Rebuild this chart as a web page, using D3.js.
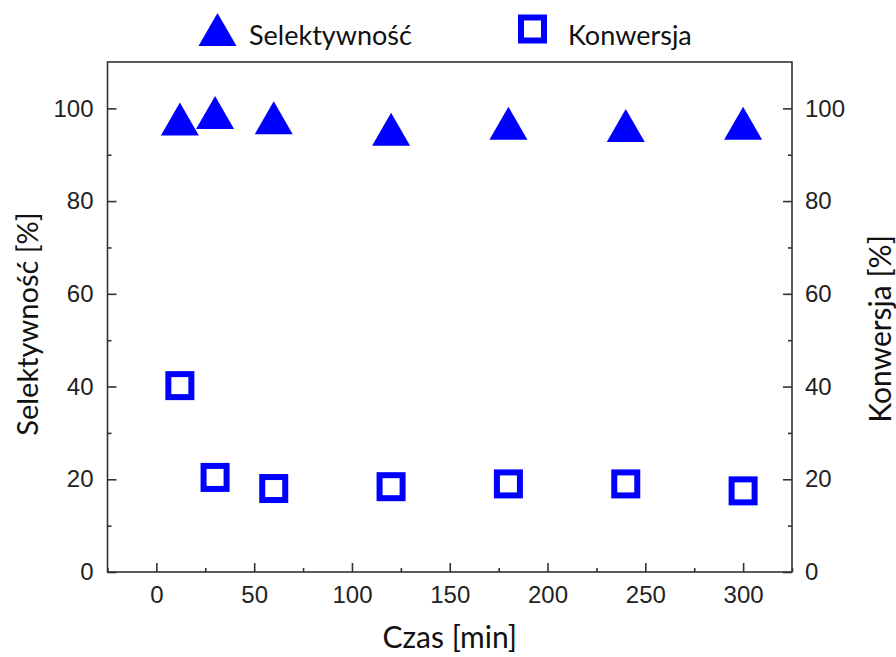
<!DOCTYPE html>
<html><head><meta charset="utf-8">
<script src="https://cdn.jsdelivr.net/npm/d3@7"></script>
<style>body{margin:0;background:#fff}svg{display:block}</style>
</head><body>
<svg id="c" width="896" height="657"></svg>
<script>
const times = [12, 30, 60, 120, 180, 240, 300];
const selektywnosc = [97.7, 99.1, 98.0, 95.5, 96.8, 96.3, 96.8];
const konwersja = [40.2, 20.4, 18.0, 18.4, 19.0, 19.0, 17.5];
const xTicks = [0, 50, 100, 150, 200, 250, 300];
const yTicks = [0, 20, 40, 60, 80, 100];
const seriesNames = ["Selektywność", "Konwersja"];

const svg = d3.select("#c");
const L = 107.5, R = 792, T = 62, B = 572;
const x = d3.scaleLinear().domain([-25, 325]).range([L, R]);
const yL = d3.scaleLinear().domain([0, 110]).range([B, T]);
const yR = d3.scaleLinear().domain([0, 110]).range([B, T]);
const blue = "#0000ff", axc = "#333";
const titleFont = "Lato, 'Open Sans', sans-serif";
const tickFont = "'Liberation Sans', Arial, sans-serif";

// frame
svg.append("rect").attr("x", L).attr("y", T).attr("width", R - L).attr("height", B - T)
  .attr("fill", "none").attr("stroke", axc).attr("stroke-width", 1.6);

// axes with inward ticks
function styleAxis(g) {
  g.select(".domain").remove();
  g.selectAll("line").attr("stroke", axc).attr("stroke-width", 1.6);
  g.selectAll("text").attr("font-family", tickFont).attr("font-size", 24).attr("fill", "#222");
}
const xMinor = d3.range(-25, 326, 25).filter(v => v % 50 !== 0);
svg.append("g").attr("transform", `translate(0,${B})`)
  .call(d3.axisBottom(x).tickValues(xMinor).tickSize(-4).tickFormat(""))
  .call(styleAxis);
svg.append("g").attr("transform", `translate(0,${B})`)
  .call(d3.axisBottom(x).tickValues(xTicks).tickSize(-9).tickPadding(14).tickFormat(d3.format("d")))
  .call(styleAxis);

const yMinor = d3.range(10, 110, 20);
svg.append("g").attr("transform", `translate(${L},0)`)
  .call(d3.axisLeft(yL).tickValues(yMinor).tickSize(-4).tickFormat(""))
  .call(styleAxis);
svg.append("g").attr("transform", `translate(${L},0)`)
  .call(d3.axisLeft(yL).tickValues(yTicks).tickSize(-9).tickPadding(14).tickFormat(d3.format("d")))
  .call(styleAxis);
svg.append("g").attr("transform", `translate(${R},0)`)
  .call(d3.axisRight(yR).tickValues(yMinor).tickSize(-4).tickFormat(""))
  .call(styleAxis);
svg.append("g").attr("transform", `translate(${R},0)`)
  .call(d3.axisRight(yR).tickValues(yTicks).tickSize(-9).tickPadding(13).tickFormat(d3.format("d")))
  .call(styleAxis);

// markers
const tri = "M0,-16.5L19,16.5L-19,16.5Z";
svg.append("g").selectAll("path").data(times).join("path")
  .attr("d", tri)
  .attr("transform", (d, i) => `translate(${x(d)},${yL(selektywnosc[i])})`)
  .attr("fill", blue);
svg.append("g").selectAll("rect").data(times).join("rect")
  .attr("x", d => x(d) - 11.5).attr("width", 23)
  .attr("y", (d, i) => yR(konwersja[i]) - 11.5).attr("height", 23)
  .attr("fill", "#fff").attr("stroke", blue).attr("stroke-width", 6);

// legend
svg.append("path").attr("d", tri).attr("transform", "translate(217.5,29.5)").attr("fill", blue);
svg.append("text").attr("x", 249).attr("y", 45).text(seriesNames[0])
  .attr("font-family", titleFont).attr("font-size", 27).attr("fill", "#111");
svg.append("rect").attr("x", 521).attr("y", 17.5).attr("width", 23).attr("height", 23)
  .attr("fill", "#fff").attr("stroke", blue).attr("stroke-width", 6);
svg.append("text").attr("x", 568).attr("y", 45).text(seriesNames[1])
  .attr("font-family", titleFont).attr("font-size", 27).attr("fill", "#111");

// axis titles
svg.append("text").attr("x", (L + R) / 2).attr("y", 648).attr("text-anchor", "middle")
  .text("Czas [min]").attr("font-family", titleFont).attr("font-size", 30).attr("fill", "#111");
svg.append("text").attr("transform", "translate(38,324) rotate(-90)").attr("text-anchor", "middle")
  .text("Selektywność [%]").attr("font-family", titleFont).attr("font-size", 29).attr("fill", "#111");
svg.append("text").attr("transform", "translate(891,329) rotate(-90)").attr("text-anchor", "middle")
  .text("Konwersja [%]").attr("font-family", titleFont).attr("font-size", 30).attr("fill", "#111");
</script>
</body></html>
